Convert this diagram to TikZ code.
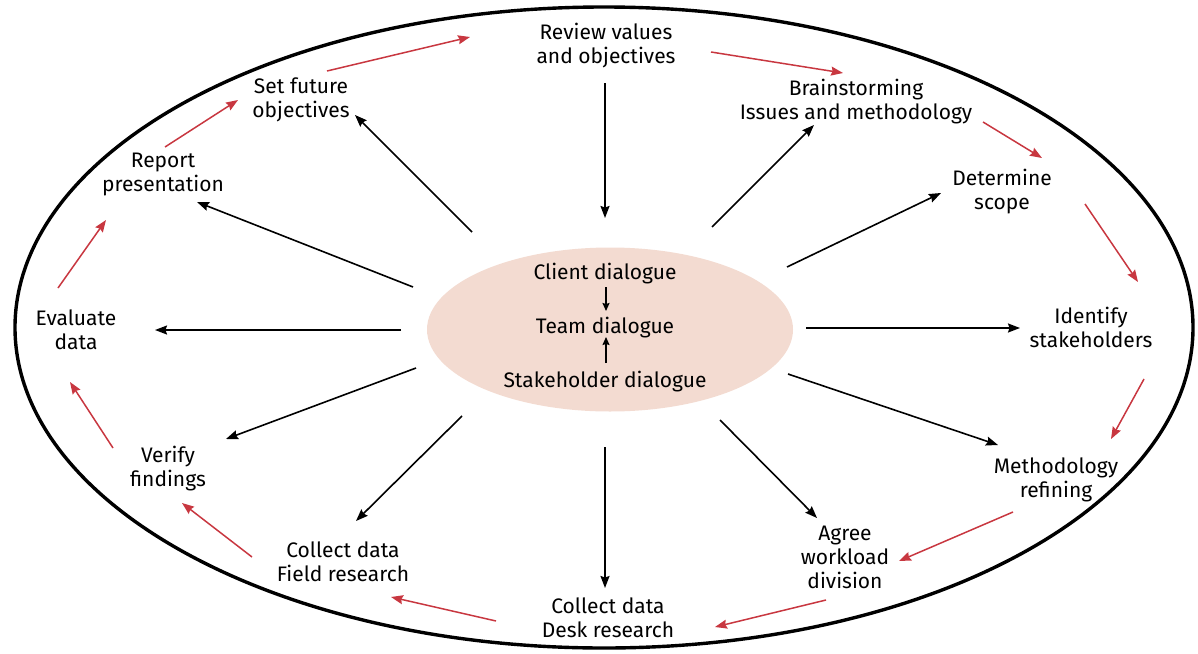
\documentclass[tikz,border=0pt]{standalone}
\usepackage{fontspec}
\setmainfont{Fira Sans}
\usetikzlibrary{arrows.meta,calc,shapes.geometric}
\definecolor{flowred}{RGB}{200,55,64}
\definecolor{hubfill}{RGB}{243,219,209}
\begin{document}
\begin{tikzpicture}[x=1pt,y=-1pt,
  lbl/.style={anchor=base, align=center, inner sep=0pt, font=\fontsize{21}{24}\selectfont},
  blk/.style={draw=black, line width=1.6pt, -{Stealth[length=12pt,width=9pt,inset=1.5pt]}},
  rd/.style={draw=flowred, line width=1.5pt, -{Stealth[length=12pt,width=9pt,inset=1.5pt]}},
  smallarr/.style={draw=black, line width=1.5pt, -{Stealth[length=8pt,width=7pt,inset=1pt]}},
]
\useasboundingbox (0,0) rectangle (1198,653);
% outer ring
\draw[line width=3.4pt] (604,327.5) ellipse [x radius=589pt, y radius=320.5pt];
% hub
\node[ellipse, fill=hubfill, draw=none, minimum width=366pt, minimum height=164pt, inner sep=0pt] (hub) at (610,329.5) {};
\node[lbl] (client) at (605,279) {Client dialogue};
\node[lbl] (team) at (605,333) {Team dialogue};
\node[lbl] (stake) at (605,387) {Stakeholder dialogue};
\draw[smallarr] ($(client.base)+(1,8)$) -- ($(team.base)+(1,-22)$);
\draw[smallarr] ($(stake.base)+(1,-24)$) -- ($(team.base)+(1,4)$);
% outer labels (anchored at the baseline of their last line)
\node[lbl] (review) at (606,63) {Review values\\and objectives};
\node[lbl] (brain) at (856,119) {Brainstorming\\Issues and methodology};
\node[lbl] (det) at (1002,209) {Determine\\scope};
\node[lbl] (iden) at (1091,347) {Identify\\stakeholders};
\node[lbl] (meth) at (1056,497) {Methodology\\refining};
\node[lbl] (agree) at (845,588) {Agree\\workload\\division};
\node[lbl] (desk) at (608,637) {Collect data\\Desk research};
\node[lbl] (field) at (343,581) {Collect data\\Field research};
\node[lbl] (verify) at (168,486) {Verify\\findings};
\node[lbl] (eval) at (76,349) {Evaluate\\data};
\node[lbl] (report) at (163,191) {Report\\presentation};
\node[lbl] (setf) at (301,117) {Set future\\objectives};
% black spokes
\draw[blk] ($(review.base)+(-1,20)$) -- ($(hub.center)+(-5,-111.5)$);
\draw[blk] ($(hub.center)+(102,-102.5)$) -- ($(brain.base)+(-42,6)$);
\draw[blk] ($(hub.center)+(177,-62.5)$) -- ($(det.base)+(-61,-16)$);
\draw[blk] ($(hub.center)+(196,-1.5)$) -- ($(iden.base)+(-71,-19)$);
\draw[blk] ($(hub.center)+(178,44.5)$) -- ($(meth.base)+(-58,-52)$);
\draw[blk] ($(hub.center)+(110,90.5)$) -- ($(agree.base)+(-28,-70)$);
\draw[blk] ($(hub.center)+(-5,117.5)$) -- ($(desk.base)+(-3,-49)$);
\draw[blk] ($(hub.center)+(-148,86.5)$) -- ($(field.base)+(13,-60)$);
\draw[blk] ($(hub.center)+(-194,38.5)$) -- ($(verify.base)+(58,-47)$);
\draw[blk] ($(hub.center)+(-209,0.5)$) -- ($(eval.base)+(79,-19)$);
\draw[blk] ($(hub.center)+(-197,-42.5)$) -- ($(report.base)+(34,11)$);
\draw[blk] ($(hub.center)+(-138,-97.5)$) -- ($(setf.base)+(54,-2)$);
% red cycle
\draw[rd] ($(setf.base)+(26,-46)$) -- ($(review.base)+(-136,-26)$);
\draw[rd] ($(review.base)+(105,-11)$) -- ($(brain.base)+(-13,-46)$);
\draw[rd] ($(brain.base)+(127,3)$) -- ($(det.base)+(40,-51)$);
\draw[rd] ($(det.base)+(83,-5)$) -- ($(iden.base)+(47,-65)$);
\draw[rd] ($(iden.base)+(53,32)$) -- ($(meth.base)+(55,-58)$);
\draw[rd] ($(meth.base)+(-43,15)$) -- ($(agree.base)+(54,-27)$);
\draw[rd] ($(agree.base)+(-19,12)$) -- ($(desk.base)+(107,-10)$);
\draw[rd] ($(desk.base)+(-112,-16)$) -- ($(field.base)+(48,16)$);
\draw[rd] ($(field.base)+(-91,-24)$) -- ($(verify.base)+(14,17)$);
\draw[rd] ($(verify.base)+(-55,-38)$) -- ($(eval.base)+(-6,33)$);
\draw[rd] ($(eval.base)+(-18,-61)$) -- ($(report.base)+(-57,29)$);
\draw[rd] ($(report.base)+(2,-44)$) -- ($(setf.base)+(-63,-17)$);
\end{tikzpicture}
\end{document}
